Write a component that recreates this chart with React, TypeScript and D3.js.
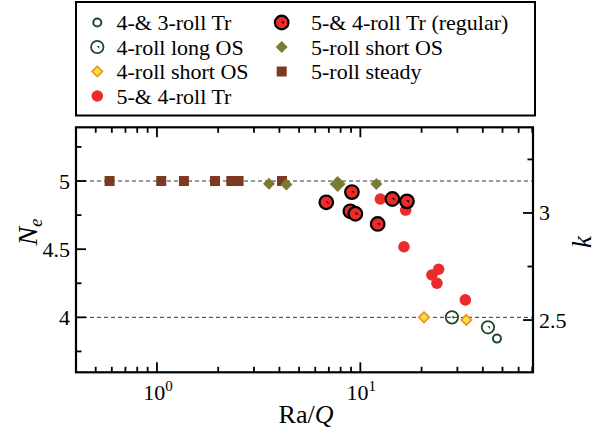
import React from "react";
import * as d3 from "d3";

// ---- data ----
const steadyX = [0.585, 1.05, 1.357, 1.93, 2.32, 2.52, 4.12];
const steadyN = [5, 5, 5, 5, 5, 5, 5];

const short5X = [3.555, 4.33, 7.73, 11.99];
const short5N = [4.98, 4.975, 4.978, 4.978];
const short5Big = [false, false, true, false];

const regularX = [6.8, 9.09, 8.93, 9.45, 12.17, 14.37, 16.95];
const regularN = [4.844, 4.919, 4.778, 4.76, 4.685, 4.868, 4.851];

const trX = [12.54, 16.7, 16.38, 24.26, 22.49, 23.8, 32.82];
const trN = [4.868, 4.787, 4.518, 4.353, 4.311, 4.25, 4.128];

const short4X = [20.55, 33.2];
const short4N = [4.0, 3.981];

const long4X = [28.2, 42.4];
const long4N = [4.0, 3.927];

const tr43X = [46.95];
const tr43N = [3.844];

const leftTicks = [4, 4.5, 5];
const leftMinor = [3.75, 4.25, 4.75, 5.25];
const rightTicks = [2.5, 3];
const rightMinor = [2.75, 3.25];
const refLines = [4, 5];

const legendCol1 = ["4-& 3-roll Tr", "4-roll long OS", "4-roll short OS", "5-& 4-roll Tr"];
const legendCol2 = ["5-& 4-roll Tr (regular)", "5-roll short OS", "5-roll steady"];

// ---- layout ----
const W = 606, H = 437;
const L = 76, R = 533, T = 127.3, B = 372.3;
const FONT = "Liberation Serif";

const RED = "#ec2b2b";
const GREEN = "#1f4a28";
const OLIVE = "#7b7b33";
const BROWN = "#7c3a22";
const YEL = "#f6e23a";
const ORANGE = "#f08a24";

const x = d3.scaleLog().domain([0.4, 70.6]).range([L, R]);
const y = d3.scaleLinear().domain([3.597, 5.394]).range([B, T]);
const yk = d3.scaleLinear().domain([2.256, 3.4]).range([B, T]);

const zip = (xs: number[], ys: number[]) => xs.map((v, i) => [x(v), y(ys[i])] as [number, number]);

const tri = (cx: number, cy: number) =>
  `M${cx - 0.5},${cy - 1} L${cx + 2},${cy - 1} L${cx + 2},${cy + 1.8} Z`;

function Square({ cx, cy }: { cx: number; cy: number }) {
  return <rect x={cx - 5} y={cy - 5} width={10} height={10} fill={BROWN} />;
}
function OliveDiamond({ cx, cy, s = 6.5 }: { cx: number; cy: number; s?: number }) {
  return <path d={`M${cx},${cy - s} L${cx + s},${cy} L${cx},${cy + s} L${cx - s},${cy} Z`} fill={OLIVE} />;
}
function YellowDiamond({ cx, cy }: { cx: number; cy: number }) {
  const s = 5.2;
  return (
    <path d={`M${cx},${cy - s} L${cx + s},${cy} L${cx},${cy + s} L${cx - s},${cy} Z`} fill={YEL} stroke={ORANGE} strokeWidth={1.6} />
  );
}
function Regular({ cx, cy }: { cx: number; cy: number }) {
  return (
    <g>
      <circle cx={cx} cy={cy} r={6.8} fill={RED} stroke="#000" strokeWidth={2.2} />
      <path d={tri(cx, cy)} fill="#000" />
    </g>
  );
}
function RedDot({ cx, cy }: { cx: number; cy: number }) {
  return <circle cx={cx} cy={cy} r={5.8} fill={RED} />;
}
function LongOS({ cx, cy }: { cx: number; cy: number }) {
  return (
    <g>
      <circle cx={cx} cy={cy} r={6.2} fill="none" stroke={GREEN} strokeWidth={1.8} />
      <path d={tri(cx, cy)} fill={GREEN} />
    </g>
  );
}
function SmallRing({ cx, cy }: { cx: number; cy: number }) {
  return <circle cx={cx} cy={cy} r={4} fill="none" stroke={GREEN} strokeWidth={2} />;
}

export default function App() {
  const majorX = [1, 10];
  const minorX: number[] = [];
  for (let d = -1; d <= 1; d++) {
    for (let m = 2; m <= 9; m++) {
      const v = m * Math.pow(10, d);
      if (v >= 0.4 && v <= 70.6 && v !== 1 && v !== 10) minorX.push(v);
    }
  }

  const legRows = [22.5, 47, 71.5, 96];
  const c1x = 97.3, c2x = 281.7, t1x = 116.5, t2x = 311;
  const f = { fontFamily: FONT };

  return (
    <div>
      <svg width={W} height={H} style={{ position: "absolute", left: 0, top: 0 }}>
        <rect x={0} y={0} width={W} height={H} fill="#fff" />
        <rect x={76} y={2} width={459} height={113.5} fill="#fff" stroke="#000" strokeWidth={2} />
        <SmallRing cx={c1x} cy={legRows[0]} />
        <LongOS cx={c1x} cy={legRows[1]} />
        <YellowDiamond cx={c1x} cy={legRows[2]} />
        <RedDot cx={c1x} cy={legRows[3]} />
        <Regular cx={c2x} cy={legRows[0]} />
        <OliveDiamond cx={c2x} cy={legRows[1]} s={6} />
        <Square cx={c2x} cy={legRows[2]} />

        {refLines.map((v) => (
          <line key={v} x1={L} x2={R} y1={y(v)} y2={y(v)} stroke="#333" strokeWidth={1} strokeDasharray="4,3" />
        ))}

        {zip(steadyX, steadyN).map(([cx, cy], i) => <Square key={"s" + i} cx={cx} cy={cy} />)}
        {zip(short5X, short5N).map(([cx, cy], i) => <OliveDiamond key={"d" + i} cx={cx} cy={cy} s={short5Big[i] ? 8 : 6} />)}
        {zip(trX, trN).map(([cx, cy], i) => <RedDot key={"t" + i} cx={cx} cy={cy} />)}
        {zip(regularX, regularN).map(([cx, cy], i) => <Regular key={"r" + i} cx={cx} cy={cy} />)}
        {zip(short4X, short4N).map(([cx, cy], i) => <YellowDiamond key={"y" + i} cx={cx} cy={cy} />)}
        {zip(long4X, long4N).map(([cx, cy], i) => <LongOS key={"l" + i} cx={cx} cy={cy} />)}
        {zip(tr43X, tr43N).map(([cx, cy], i) => <SmallRing key={"g" + i} cx={cx} cy={cy} />)}

        <g stroke="#000" strokeWidth={1.8}>
          {majorX.map((v) => (
            <g key={"mx" + v}>
              <line x1={x(v)} x2={x(v)} y1={B} y2={B - 10} />
              <line x1={x(v)} x2={x(v)} y1={T} y2={T + 10} />
            </g>
          ))}
          {minorX.map((v) => (
            <g key={"nx" + v}>
              <line x1={x(v)} x2={x(v)} y1={B} y2={B - 5.5} />
              <line x1={x(v)} x2={x(v)} y1={T} y2={T + 5.5} />
            </g>
          ))}
          {leftTicks.map((v) => <line key={"ly" + v} x1={L} x2={L + 10} y1={y(v)} y2={y(v)} />)}
          {leftMinor.map((v) => <line key={"lm" + v} x1={L} x2={L + 5.5} y1={y(v)} y2={y(v)} />)}
          {rightTicks.map((v) => <line key={"ry" + v} x1={R} x2={R - 10} y1={yk(v)} y2={yk(v)} />)}
          {rightMinor.map((v) => <line key={"rm" + v} x1={R} x2={R - 5.5} y1={yk(v)} y2={yk(v)} />)}
        </g>
        <rect x={L} y={T} width={R - L} height={B - T} fill="none" stroke="#000" strokeWidth={2.2} />
      </svg>

      {/* text layer */}
      <svg width={W} height={H} style={{ position: "absolute", left: 0, top: 0 }}>
        {legendCol1.map((t, i) => (
          <text key={t} x={t1x} y={legRows[i] + 7.5} fontSize={22} style={f}>{t}</text>
        ))}
        {legendCol2.map((t, i) => (
          <text key={t} x={t2x} y={legRows[i] + 7.5} fontSize={22} style={f}>{t}</text>
        ))}
        {leftTicks.map((v) => (
          <text key={"lt" + v} x={70} y={y(v) + 7.5} textAnchor="end" fontSize={22} style={f}>{String(v)}</text>
        ))}
        {rightTicks.map((v) => (
          <text key={"rt" + v} x={539} y={yk(v) + 7.5} fontSize={22} style={f}>{String(v)}</text>
        ))}
        {majorX.map((v, i) => (
          <text key={"xt" + v} x={x(v) + 1} y={399.5} textAnchor="middle" fontSize={22} style={f}>
            10<tspan dy={-9} fontSize={15} style={f}>{String(i)}</tspan>
          </text>
        ))}
        <text x={306} y={423} textAnchor="middle" fontSize={26} style={f}>
          Ra/<tspan fontStyle="italic" style={f}>Q</tspan>
        </text>
        <text transform="translate(37,232) rotate(-90)" textAnchor="middle" fontSize={28} style={f}>
          <tspan fontStyle="italic" style={f}>N</tspan>
          <tspan fontStyle="italic" fontSize={19} dy={5} style={f}>e</tspan>
        </text>
        <text transform="translate(591,242) rotate(-90)" textAnchor="middle" fontSize={27} fontStyle="italic" style={f}>k</text>
      </svg>
    </div>
  );
}
